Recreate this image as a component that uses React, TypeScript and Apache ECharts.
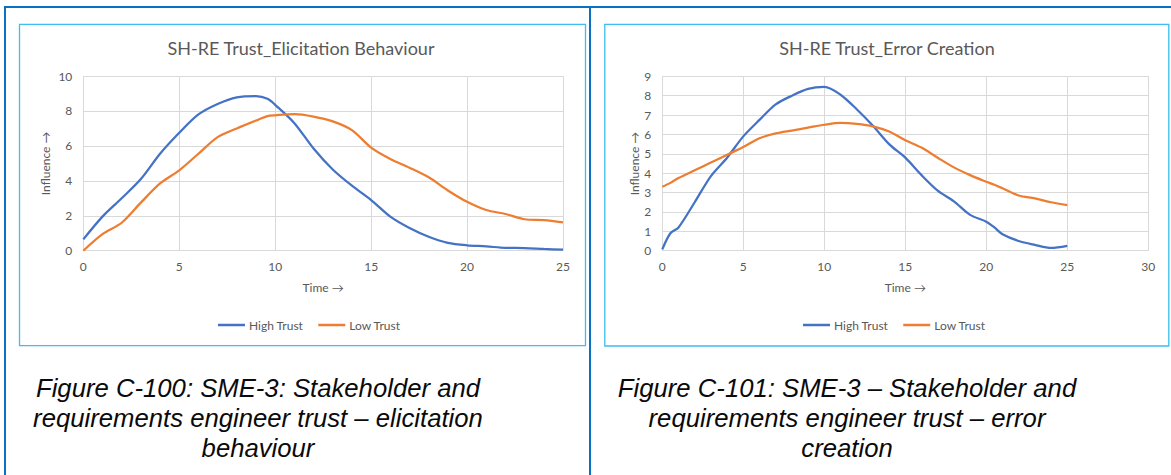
import React, { useEffect, useRef } from "react";
import * as echarts from "echarts";

// ---- Data ----
const seriesNames = ["High Trust", "Low Trust"];

// Left chart: SH-RE Trust_Elicitation Behaviour
const elicTime = [0, 1, 2, 3, 4, 5, 6, 7, 8, 9, 9.6, 10, 11, 12, 13, 14, 15, 16, 17, 18, 19, 20, 21, 22, 23, 24, 25];
const elicHigh = [0.65, 1.95, 3.0, 4.1, 5.55, 6.75, 7.8, 8.4, 8.78, 8.85, 8.7, 8.35, 7.3, 5.85, 4.65, 3.72, 2.9, 1.95, 1.3, 0.8, 0.45, 0.31, 0.25, 0.16, 0.15, 0.1, 0.06];
const elicLow = [0, 0.95, 1.6, 2.75, 3.85, 4.6, 5.55, 6.5, 7.0, 7.45, 7.7, 7.75, 7.82, 7.68, 7.4, 6.9, 5.9, 5.25, 4.75, 4.2, 3.45, 2.8, 2.33, 2.1, 1.8, 1.75, 1.62];

// Right chart: SH-RE Trust_Error Creation
const errTime = [0, 0.5, 1, 2, 3, 4, 5, 6, 7, 8, 9, 10, 11, 12, 13, 14, 15, 16, 17, 18, 19, 20, 20.5, 21, 22, 23, 24, 25];
const errHigh = [0.07, 0.9, 1.2, 2.5, 3.85, 4.8, 5.9, 6.75, 7.55, 8.0, 8.35, 8.45, 8.05, 7.3, 6.45, 5.5, 4.8, 3.9, 3.1, 2.55, 1.85, 1.5, 1.2, 0.85, 0.5, 0.3, 0.14, 0.25];
const errLow = [3.3, 3.5, 3.75, 4.15, 4.55, 4.95, 5.35, 5.8, 6.05, 6.2, 6.35, 6.5, 6.6, 6.55, 6.42, 6.15, 5.7, 5.32, 4.8, 4.3, 3.9, 3.56, 3.4, 3.22, 2.85, 2.7, 2.5, 2.35];

const chartTitles = ["SH-RE Trust_Elicitation Behaviour", "SH-RE Trust_Error Creation"];
const xAxisName = "Time \u2192";
const yAxisName = "Influence \u2192";
const xMax = [25, 30];
const yMax = [10, 9];
const yInterval = [2, 1];
const captions = [
  "Figure C-100: SME-3: Stakeholder and\nrequirements engineer trust \u2013 elicitation\nbehaviour",
  "Figure C-101: SME-3 \u2013 Stakeholder and\nrequirements engineer trust \u2013 error\ncreation",
];

const BLUE = "#4472C4";
const ORANGE = "#ED7D31";
const GRAY = "#595959";
const GRID = "#D9D9D9";
const FONT = "Lato";

const pairs = (t: number[], v: number[]) => t.map((x, i) => [x, v[i]]);

export default function App() {
  const ref = useRef<HTMLDivElement>(null);
  useEffect(() => {
    if (!ref.current) return;
    const chart = echarts.init(ref.current, null, { renderer: "svg" });

    const grids = [
      { left: 83.3, top: 76, width: 479.7, height: 174.7 },
      { left: 662.3, top: 76.3, width: 486, height: 174.4 },
    ];

    const xAxes = [0, 1].map((i) => ({
      type: "value",
      gridIndex: i,
      min: 0,
      max: xMax[i],
      interval: 5,
      axisLine: { show: true, lineStyle: { color: GRID, width: 1 } },
      axisTick: { show: false },
      splitLine: { show: true, lineStyle: { color: GRID, width: 1 } },
      axisLabel: { color: GRAY, fontSize: 12, fontFamily: FONT, margin: 10 },
      name: xAxisName,
      nameLocation: "middle",
      nameGap: 31,
      nameTextStyle: { color: GRAY, fontSize: 12, fontFamily: FONT },
    }));

    const yAxes = [0, 1].map((i) => ({
      type: "value",
      gridIndex: i,
      min: 0,
      max: yMax[i],
      interval: yInterval[i],
      axisLine: { show: false },
      axisTick: { show: false },
      splitLine: { show: true, lineStyle: { color: GRID, width: 1 } },
      axisLabel: { color: GRAY, fontSize: 12, fontFamily: FONT, margin: 11 },
      name: yAxisName,
      nameLocation: "middle",
      nameGap: i === 0 ? 32 : 21,
      nameRotate: 90,
      nameTextStyle: { color: GRAY, fontSize: 12, fontFamily: FONT },
    }));

    const mkLine = (name: string, data: number[][], idx: number, color: string) => ({
      type: "line",
      name,
      xAxisIndex: idx,
      yAxisIndex: idx,
      data,
      smooth: 0.3,
      symbol: "none",
      lineStyle: { color, width: 2.25 },
      itemStyle: { color },
    });

    const legendBase = {
      orient: "horizontal",
      icon: "rect",
      itemWidth: 27,
      itemHeight: 2.5,
      itemGap: 15,
      textStyle: { color: GRAY, fontSize: 12, fontFamily: FONT, padding: [0, 0, 0, -1] },
      data: seriesNames,
      selectedMode: false,
      top: 314,
    };

    const option: any = {
      animation: false,
      backgroundColor: "#ffffff",
      grid: grids,
      xAxis: xAxes,
      yAxis: yAxes,
      legend: [
        { ...legendBase, left: 213 },
        { ...legendBase, left: 798 },
      ],
      series: [
        mkLine(seriesNames[0], pairs(elicTime, elicHigh), 0, BLUE),
        mkLine(seriesNames[1], pairs(elicTime, elicLow), 0, ORANGE),
        mkLine(seriesNames[0], pairs(errTime, errHigh), 1, BLUE),
        mkLine(seriesNames[1], pairs(errTime, errLow), 1, ORANGE),
      ],
      graphic: [
        // outer table borders
        { type: "line", z: -10, shape: { x1: 4, y1: 7, x2: 1171, y2: 7 }, style: { stroke: "#0A70C2", lineWidth: 2 } },
        { type: "line", z: -10, shape: { x1: 5, y1: 6, x2: 5, y2: 475 }, style: { stroke: "#0A70C2", lineWidth: 2 } },
        { type: "line", z: -10, shape: { x1: 590, y1: 6, x2: 590, y2: 475 }, style: { stroke: "#0A70C2", lineWidth: 2 } },
        // chart boxes
        { type: "rect", z: -10, shape: { x: 19.5, y: 24.3, width: 566, height: 321.4 }, style: { fill: "none", stroke: "#3DBDF0", lineWidth: 1.3 } },
        { type: "rect", z: -10, shape: { x: 604.8, y: 24.3, width: 564, height: 321.7 }, style: { fill: "none", stroke: "#3DBDF0", lineWidth: 1.3 } },
        // titles
        {
          type: "text", x: 301, y: 48,
          style: { text: chartTitles[0], fill: GRAY, font: `18px ${FONT}`, textAlign: "center", textVerticalAlign: "middle", align: "center", verticalAlign: "middle" },
        },
        {
          type: "text", x: 887, y: 48,
          style: { text: chartTitles[1], fill: GRAY, font: `18px ${FONT}`, textAlign: "center", textVerticalAlign: "middle", align: "center", verticalAlign: "middle" },
        },
        // captions
        {
          type: "text", x: 258, y: 373,
          style: { text: captions[0], fill: "#0a0a0a", font: `italic 25.7px "Liberation Sans"`, lineHeight: 30, textAlign: "center", textVerticalAlign: "top", align: "center", verticalAlign: "top" },
        },
        {
          type: "text", x: 847, y: 373,
          style: { text: captions[1], fill: "#0a0a0a", font: `italic 25.7px "Liberation Sans"`, lineHeight: 30, textAlign: "center", textVerticalAlign: "top", align: "center", verticalAlign: "top" },
        },
      ],
    };

    chart.setOption(option);
    return () => chart.dispose();
  }, []);

  return (
    <div
      ref={ref}
      style={{ position: "fixed", left: 0, top: 0, width: 1171, height: 475, background: "#fff" }}
    />
  );
}
